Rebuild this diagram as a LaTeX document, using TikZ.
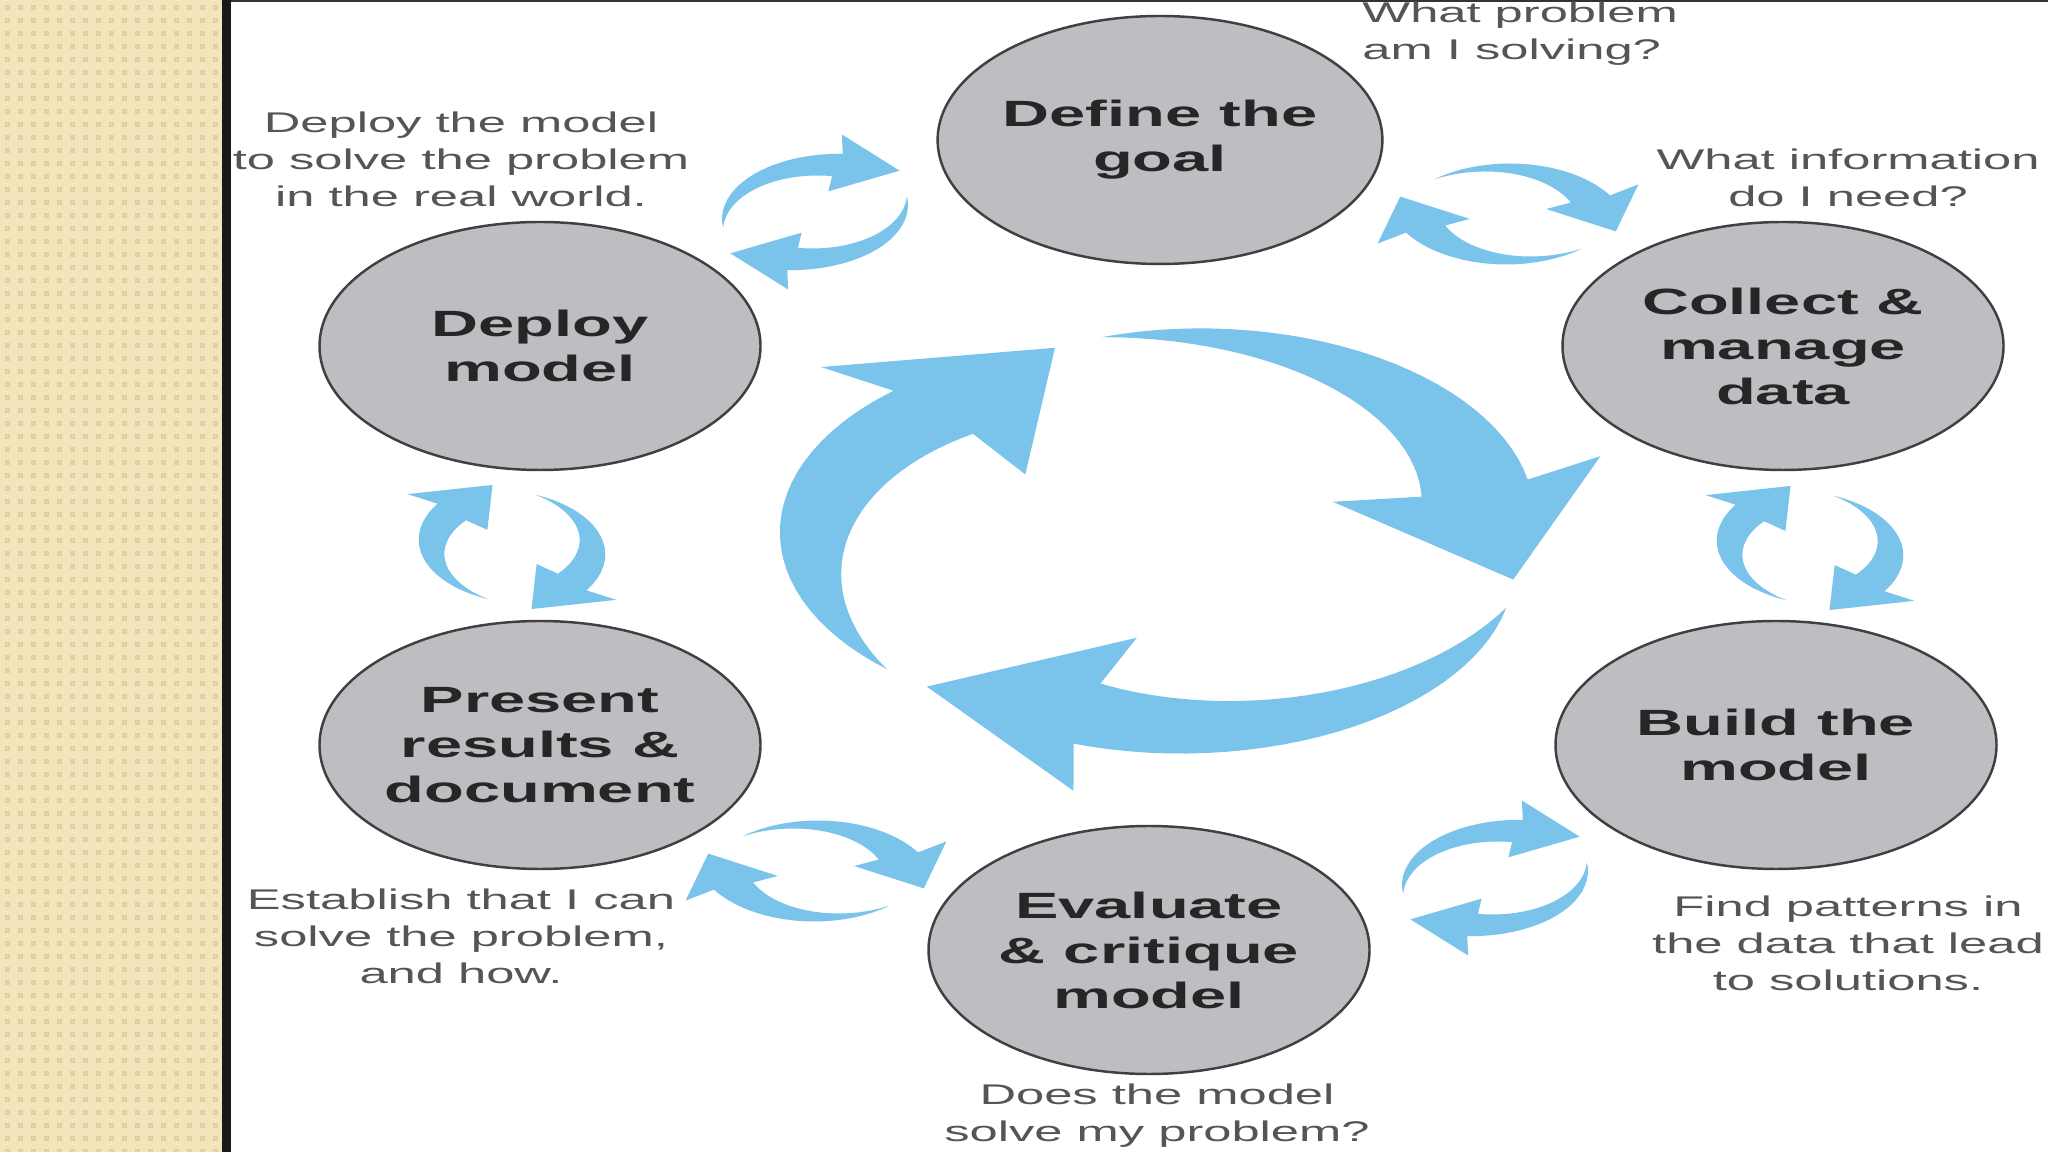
\documentclass[tikz,border=0pt]{standalone}
\usepackage{fontspec}
\usetikzlibrary{shapes.geometric}
\newfontfamily\widesans[FakeStretch=1.78]{Liberation Sans}
\definecolor{cycleblue}{RGB}{122,196,236}
\definecolor{stepgray}{RGB}{190,190,194}
\definecolor{notegray}{RGB}{85,85,85}
\definecolor{slidebeige}{RGB}{244,228,188}
\definecolor{beigedot}{RGB}{226,207,158}

\tikzset{
  stage/.style={ellipse, draw=black!75, line width=0.7pt, fill=stepgray,
    minimum width=44.1mm, minimum height=24.8mm, inner sep=0pt, align=center,
    text=black!85, font=\widesans\bfseries\fontsize{10.4}{12.8}\selectfont},
  note/.style={align=center, text=notegray, font=\widesans\fontsize{8.1}{10.5}\selectfont},
  cyclearrow/.style={fill=cycleblue},
}

% two small curved arrows, turning clockwise
\newcommand\swaparrows[3]{%
  \begin{scope}[shift={(#1,#2)}, xscale=1.78]
    \foreach \a in {#3, #3+180}
      \fill[cyclearrow] ({\a}:54)
        -- plot[domain=0:122, samples=20, variable=\t] ({\a+\t}:{54-0.25*\t+0.0017*\t*\t+0.095*\t})
        -- ({\a+118}:79) -- ({\a+156}:63) -- ({\a+127}:22)
        -- plot[domain=122:0, samples=20, variable=\t] ({\a+\t}:{54-0.25*\t+0.0017*\t*\t-0.095*\t})
        -- cycle;
  \end{scope}}

\begin{document}
\begin{tikzpicture}[x=0.1mm, y=-0.1mm]
    \useasboundingbox (0,0) rectangle (2048,1152);

    % slide background
    \fill[slidebeige] (0,0) rectangle (222,1152);
    \foreach \i in {0,...,16}
      \foreach \j in {0,...,88}
        \draw[beigedot, line width=0.3pt] ({6+13*\i},{6+13*\j}) rectangle +(3,3);
    \fill[black!90] (222,0) rectangle (231,1152);
    \fill[white] (231,0) rectangle (2048,1152);
    \draw[black!80, line width=0.6pt] (231,1) -- (2048,1);

    % big cycle in the middle
    \begin{scope}[shift={(1165,538)}, xscale=1.78]
      \foreach \p in {20,140,260}
        \fill[cyclearrow] (\p:204)
          -- plot[domain=0:84, samples=30, variable=\t] ({\p+\t}:{204+0.5*\t-0.00482*\t*\t})
          -- ({\p+81.5}:258) -- ({\p+112}:200) -- ({\p+79}:101) -- ({\p+84}:150)
          -- plot[domain=84:0, samples=30, variable=\t] ({\p+\t}:{204-0.643*\t})
          -- cycle;
    \end{scope}

    \swaparrows{815}{212}{163}
    \swaparrows{1508}{214}{220}
    \swaparrows{1810}{548}{104}
    \swaparrows{1495}{878}{163}
    \swaparrows{816}{871}{220}
    \swaparrows{512}{547}{104}

    \node[stage] (goal) at (1160,140) {Define the\\goal};
    \node[stage] (collect) at (1783,346) {Collect \&\\manage\\data};
    \node[stage] (build) at (1776,745) {Build the\\model};
    \node[stage] (evaluate) at (1149,950) {Evaluate\\\& critique\\model};
    \node[stage] (present) at (540,745) {Present\\results \&\\document};
    \node[stage] (deploy) at (540,346) {Deploy\\model};

    \node[note, anchor=west, align=left] (qgoal) at (1350,34) {What problem\\am I solving?};
    \node[note] (qcollect) at (1848,178) {What information\\do I need?};
    \node[note] (qbuild) at (1848,943) {Find patterns in\\the data that lead\\to solutions.};
    \node[note] (qevaluate) at (1157,1116) {Does the model\\solve my problem?};
    \node[note] (qpresent) at (461,936) {Establish that I can\\solve the problem,\\and how.};
    \node[note] (qdeploy) at (461,159) {Deploy the model\\to solve the problem\\in the real world.};
\end{tikzpicture}
\end{document}
